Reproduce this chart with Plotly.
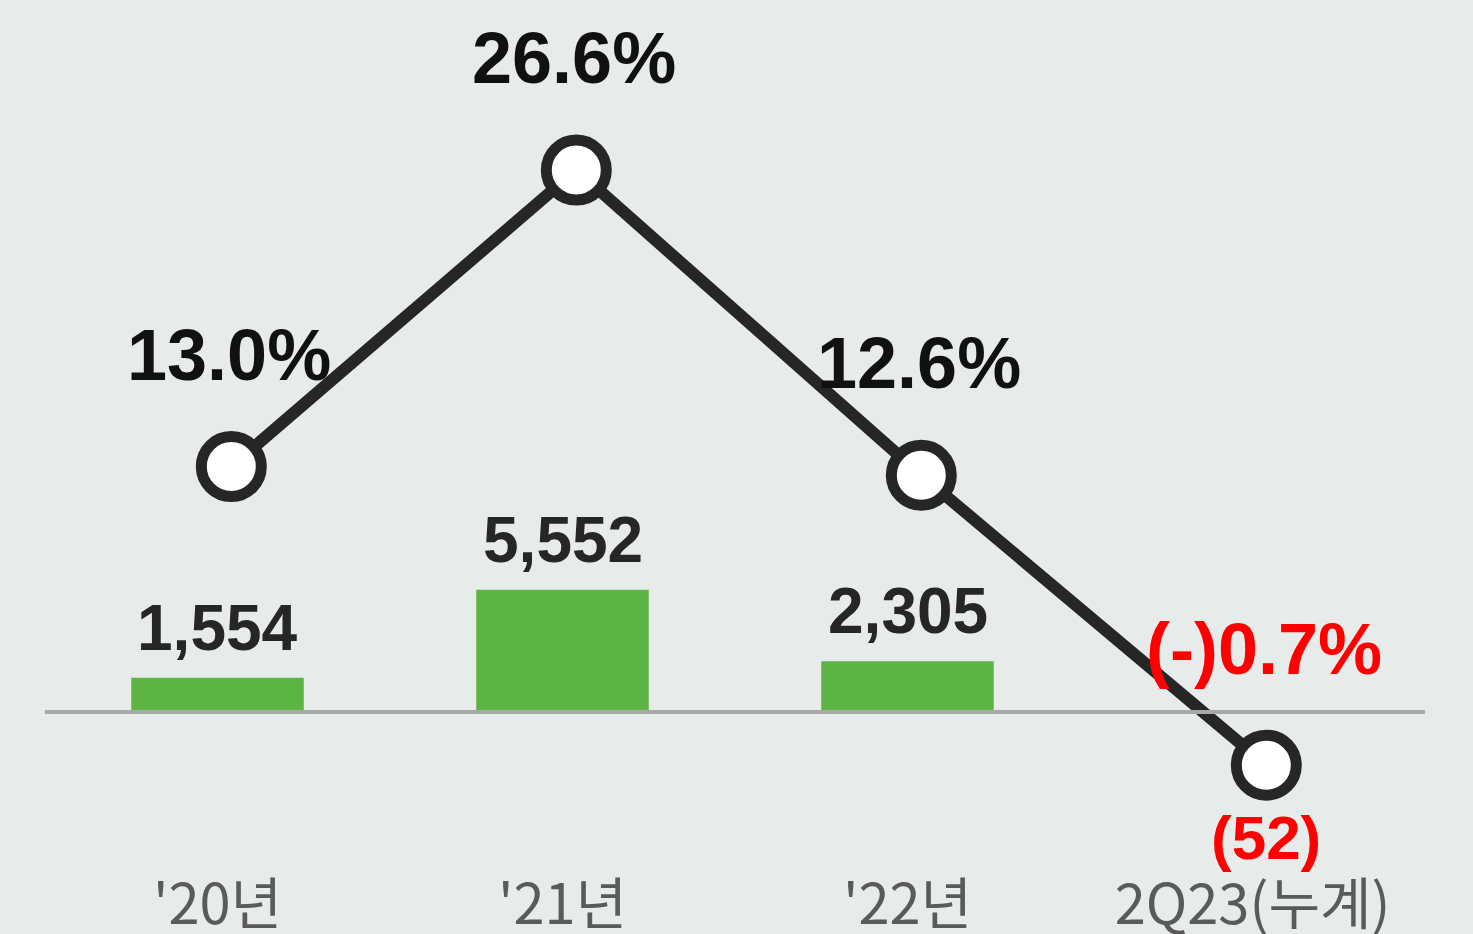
import plotly.graph_objects as go

categories = ["'20년", "'21년", "'22년", "2Q23(누계)"]
profit = [1554, 5552, 2305, -52]
margin_pct = [13.0, 26.6, 12.6, -0.7]
profit_labels = ["1,554", "5,552", "2,305", "(52)"]
pct_labels = ["13.0%", "26.6%", "12.6%", "(-)0.7%"]

pos = list(range(len(categories)))
GREEN = "#5cb543"
DARK = "#262626"
RED = "#ff0000"
BOLD = "Liberation Sans, Arial, sans-serif"

fig = go.Figure()

# bars: operating profit
fig.add_trace(go.Bar(
    x=pos, y=profit, marker=dict(color=GREEN, line=dict(width=0)),
    width=0.5, xaxis="x", yaxis="y", hoverinfo="skip",
))

# line: margin %, drawn on a slightly shifted overlay axis like the original
fig.add_trace(go.Scatter(
    x=pos, y=margin_pct, mode="lines+markers",
    line=dict(color=DARK, width=12),
    marker=dict(size=60, color="white", line=dict(color=DARK, width=11)),
    xaxis="x2", yaxis="y2", hoverinfo="skip",
))

annotations = []
for i, (v, lab) in enumerate(zip(profit, profit_labels)):
    if v >= 0:
        annotations.append(dict(
            x=i, y=v, xref="x", yref="y", text=lab, showarrow=False,
            yanchor="bottom", yshift=12,
            font=dict(family=BOLD, size=64, color=DARK, weight="bold"),
        ))
    else:
        annotations.append(dict(
            x=i, y=v, xref="x2", yref="y", text=lab, showarrow=False,
            yanchor="middle", yshift=-124,
            font=dict(family=BOLD, size=62, color=RED, weight="bold"),
        ))

for i, (v, lab) in enumerate(zip(margin_pct, pct_labels)):
    annotations.append(dict(
        x=i, y=v, xref="x2", yref="y2", text=lab, showarrow=False,
        yanchor="middle", yshift=112 if v >= 0 else 116, xshift=-2,
        font=dict(family=BOLD, size=72, color=RED if v < 0 else "#111111", weight="bold"),
    ))

fig.update_layout(
    width=1473, height=934,
    margin=dict(l=45, r=48, t=0, b=72),
    paper_bgcolor="#e7ebe9", plot_bgcolor="rgba(0,0,0,0)",
    showlegend=False,
    annotations=annotations,
    xaxis=dict(
        range=[-0.5, 3.5], tickmode="array", tickvals=pos, ticktext=categories,
        showgrid=False, zeroline=False, showline=False, ticks="",
        tickfont=dict(family="Noto Sans CJK KR, sans-serif", size=56, color="#5a5a5a"),
        ticklabelstandoff=5, automargin=False,
    ),
    xaxis2=dict(range=[-0.54, 3.46], overlaying="x", visible=False),
    yaxis=dict(range=[-6810, 32325], visible=False, zeroline=False, showgrid=False,
               automargin=False),
    yaxis2=dict(range=[-5.14, 34.4], overlaying="y", visible=False),
    shapes=[dict(
        type="line", xref="paper", yref="y", x0=0, x1=1, y0=0, y1=0,
        line=dict(color="#a8a8a8", width=4), layer="above",
    )],
)

fig.write_html(
    "out.html",
    config={"displayModeBar": False},
    post_script="document.body.style.margin='0';document.body.style.overflow='hidden';",
)
